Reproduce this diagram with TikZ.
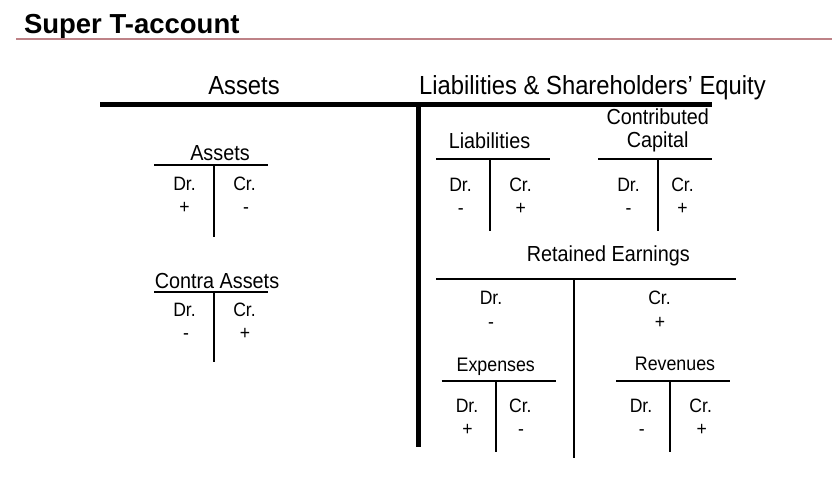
\documentclass[tikz,border=0pt]{standalone}
\usepackage{graphicx}
\usepackage{fontspec}
\setmainfont{Liberation Sans}
\definecolor{titleline}{RGB}{190,130,135}
\newcommand{\vstr}[1]{\scalebox{1}[1.1]{#1}}
\begin{document}
\begin{tikzpicture}[x=1pt,y=-1pt,
  every node/.style={inner sep=0pt,outer sep=0pt,anchor=base},
  titlefont/.style={font=\fontsize{27.5}{30}\selectfont\bfseries, anchor=base west},
  bighead/.style={font=\fontsize{23.8}{28}\selectfont},
  head/.style={font=\fontsize{19.8}{24}\selectfont},
  subhead/.style={font=\fontsize{17.8}{22}\selectfont},
  dc/.style={font=\fontsize{17.6}{22}\selectfont},
  bigline/.style={line width=4.6pt},
  tline/.style={line width=2pt}]
\useasboundingbox (0,0) rectangle (839,485);
% title
\node[titlefont] (title) at (24,33.3) {Super T-account};
\draw[titleline, line width=1.1pt] (16,39) -- (832,39);
% big T
\draw[bigline] (100,104.7) -- (711.7,104.7);
\draw[bigline] (418.5,104.7) -- (418.5,447);
\node[bighead] (assets) at (244,94.3) {\vstr{Assets}};
\node[bighead] (lse) at (592.5,94.3) {\vstr{Liabilities \& Shareholders’ Equity}};
% Assets T
\node[head] (aH) at (220,160.7) {\vstr{Assets}};
\draw[tline] (154,165) -- (268,165);
\draw[tline] (213.5,165) -- (213.5,236.7);
\node[dc] (aDr) at (184.5,190.7) {\vstr{Dr.}};
\node[dc] (aCr) at (244.5,190.7) {\vstr{Cr.}};
\node[dc] (aP) at (184.5,213) {\vstr{+}};
\node[dc] (aM) at (246,213) {\vstr{-}};
% Contra Assets T
\node[head] (cH) at (217,288) {\vstr{Contra Assets}};
\draw[tline] (154,291.7) -- (268.3,291.7);
\draw[tline] (213.8,291.7) -- (213.8,362.3);
\node[dc] (cDr) at (184.5,316.5) {\vstr{Dr.}};
\node[dc] (cCr) at (244.5,316.5) {\vstr{Cr.}};
\node[dc] (cM) at (186,339) {\vstr{-}};
\node[dc] (cP) at (245,339) {\vstr{+}};
% Liabilities T
\node[head] (lH) at (489.5,148.3) {\vstr{Liabilities}};
\draw[tline] (436,158.7) -- (550,158.7);
\draw[tline] (490,158.7) -- (490,230.7);
\node[dc] (lDr) at (460.5,191) {\vstr{Dr.}};
\node[dc] (lCr) at (520.5,191) {\vstr{Cr.}};
\node[dc] (lM) at (460.7,214) {\vstr{-}};
\node[dc] (lP) at (520.7,214) {\vstr{+}};
% Contributed Capital T
\node[head] (ccH1) at (657.7,124) {\vstr{Contributed}};
\node[head] (ccH2) at (657.7,147.8) {\vstr{Capital}};
\draw[tline] (598,158.7) -- (711.7,158.7);
\draw[tline] (657.7,158.7) -- (657.7,230.7);
\node[dc] (ccDr) at (628.5,191) {\vstr{Dr.}};
\node[dc] (ccCr) at (682.5,191) {\vstr{Cr.}};
\node[dc] (ccM) at (628.5,214) {\vstr{-}};
\node[dc] (ccP) at (682.5,214) {\vstr{+}};
% Retained Earnings T
\node[head] (reH) at (608.3,261.7) {\vstr{Retained Earnings}};
\draw[tline] (436,279) -- (736,279);
\draw[tline] (574,279) -- (574,458.3);
\node[dc] (reDr) at (491,304.5) {\vstr{Dr.}};
\node[dc] (reCr) at (659.5,304.5) {\vstr{Cr.}};
\node[dc] (reM) at (491,328) {\vstr{-}};
\node[dc] (reP) at (660,328) {\vstr{+}};
% Expenses T
\node[subhead] (eH) at (495.8,371.7) {\vstr{Expenses}};
\draw[tline] (441.7,380.7) -- (556,380.7);
\draw[tline] (496,380.7) -- (496,452.3);
\node[dc] (eDr) at (467,412.7) {\vstr{Dr.}};
\node[dc] (eCr) at (520.3,412.7) {\vstr{Cr.}};
\node[dc] (eP) at (467.5,435.5) {\vstr{+}};
\node[dc] (eM) at (521,435.5) {\vstr{-}};
% Revenues T
\node[subhead] (rH) at (675,370) {\vstr{Revenues}};
\draw[tline] (616,380.7) -- (730,380.7);
\draw[tline] (670,380.7) -- (670,452.3);
\node[dc] (rDr) at (641,412.7) {\vstr{Dr.}};
\node[dc] (rCr) at (700.7,412.7) {\vstr{Cr.}};
\node[dc] (rM) at (641.7,435.5) {\vstr{-}};
\node[dc] (rP) at (701.7,435.5) {\vstr{+}};
\end{tikzpicture}
\end{document}
